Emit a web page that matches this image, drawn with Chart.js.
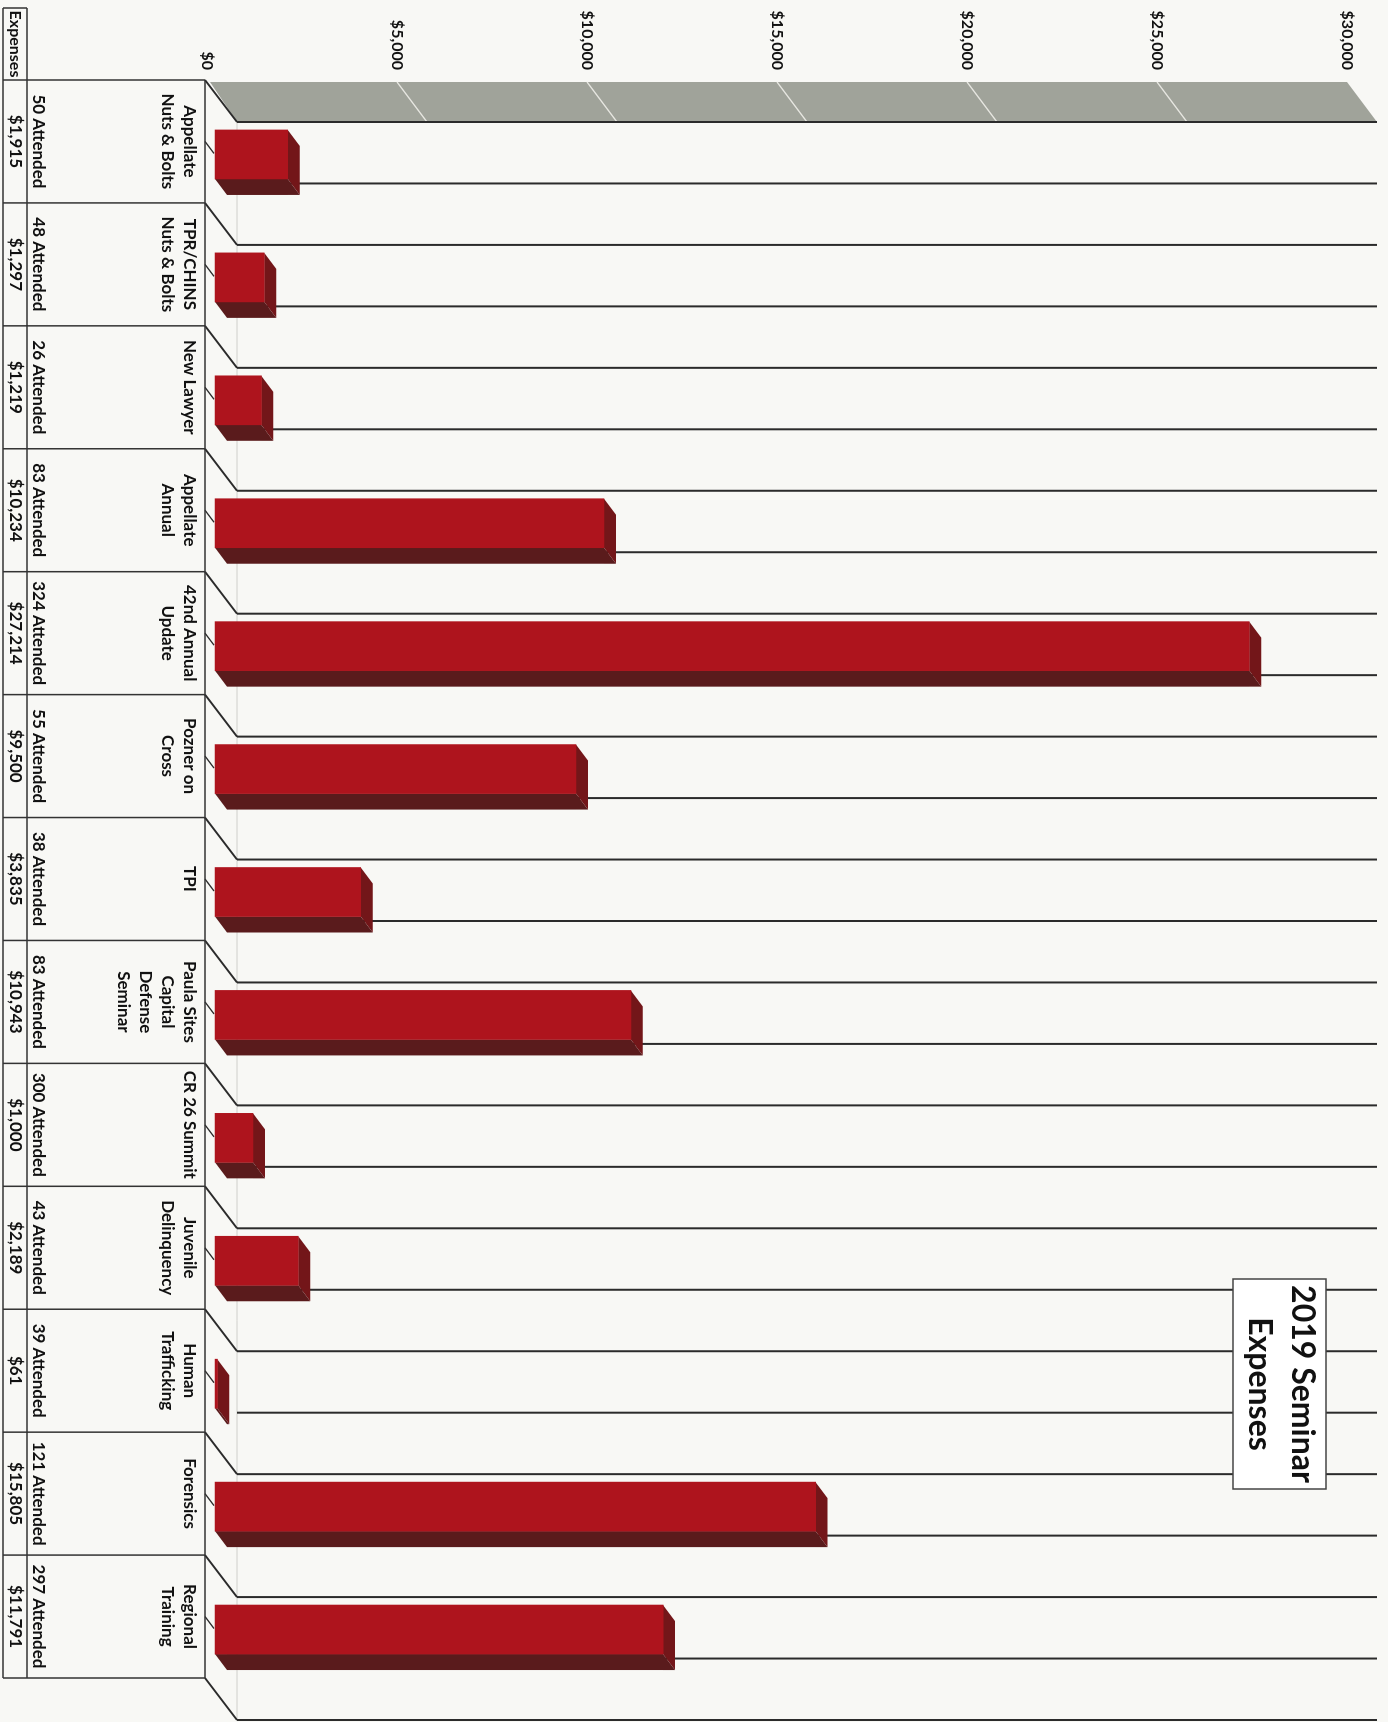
<!DOCTYPE html>
<html>
<head>
<meta charset="utf-8">
<script src="https://cdn.jsdelivr.net/npm/chart.js@4.4.1/dist/chart.umd.min.js"></script>
<style>
  html, body { margin: 0; padding: 0; background: #f8f8f5; overflow: hidden; }
  /* the chart is drawn landscape and turned a quarter clockwise, like the scanned page */
  #wrap { position: absolute; left: 0; top: 0; width: 1722px; height: 1388px;
          transform-origin: 0 0; transform: translate(1388px, 0) rotate(90deg); }
</style>
</head>
<body>
<div id="wrap"><canvas id="chart" width="1722" height="1388"></canvas></div>
<script>
const seminars = [
  ['Appellate', 'Nuts & Bolts'],
  ['TPR/CHINS', 'Nuts & Bolts'],
  'New Lawyer',
  ['Appellate', 'Annual'],
  ['42nd Annual', 'Update'],
  ['Pozner on', 'Cross'],
  'TPI',
  ['Paula Sites', 'Capital', 'Defense', 'Seminar'],
  'CR 26 Summit',
  ['Juvenile', 'Delinquency'],
  ['Human', 'Trafficking'],
  'Forensics',
  ['Regional', 'Training']
];
const attended = [50, 48, 26, 83, 324, 55, 38, 83, 300, 43, 39, 121, 297];
const expenses = [1915, 1297, 1219, 10234, 27214, 9500, 3835, 10943, 1000, 2189, 61, 15805, 11791];
const tickMin = 0;
const tickMax = 30000;
const tickStep = 5000;

const FONT = 'Lato, "Open Sans", sans-serif';
const money = v => '$' + v.toLocaleString('en-US');

// 3D look: offsets in canvas px
const floorDepth = { x: 42, y: -30 };
const barShift = 13;
const barDepth = { x: 16, y: -12 };

const sheet = {
  id: 'sheet',
  beforeDatasetsDraw(chart) {
    const { ctx, chartArea: a, scales: { x, y } } = chart;
    const n = seminars.length;
    const step = x.getPixelForValue(1) - x.getPixelForValue(0);
    const y0 = y.getPixelForValue(tickMin);
    const yTop = y.getPixelForValue(tickMax);
    const tableTop = y0 + 10;
    ctx.save();

    // grey side wall
    const fx = a.left + 2, bx = a.left + floorDepth.x;
    ctx.fillStyle = '#a0a39a';
    ctx.beginPath();
    ctx.moveTo(fx, y0 + 5);
    ctx.lineTo(fx, yTop + 8);
    ctx.lineTo(bx, yTop + 8 + floorDepth.y);
    ctx.lineTo(bx, y0 + 8 + floorDepth.y);
    ctx.closePath();
    ctx.fill();
    ctx.strokeStyle = '#e8e8e2';
    ctx.lineWidth = 1.5;
    for (let v = tickMin + tickStep; v < tickMax; v += tickStep) {
      const py = y.getPixelForValue(v) + 8;
      ctx.beginPath();
      ctx.moveTo(fx, py);
      ctx.lineTo(bx, py + floorDepth.y);
      ctx.stroke();
    }

    // faint back edge
    ctx.strokeStyle = '#cfcfcb';
    ctx.lineWidth = 1;
    ctx.beginPath();
    ctx.moveTo(bx, y0 + 8 + floorDepth.y);
    ctx.lineTo(a.right + floorDepth.x, y0 + 8 + floorDepth.y);
    ctx.stroke();

    // grid lines at every half category, pushed back by the depth
    ctx.strokeStyle = '#2b2b2b';
    ctx.lineWidth = 2;
    for (let k = 0; k <= 2 * n; k++) {
      const gx = a.left + k * step / 2 + floorDepth.x;
      ctx.beginPath();
      ctx.moveTo(gx, y0 + 8 + floorDepth.y);
      ctx.lineTo(gx, yTop + 8 + floorDepth.y);
      ctx.stroke();
    }
    // connectors from the table to the floor
    for (let i = 0; i <= n; i++) {
      const bxi = a.left + i * step;
      ctx.beginPath();
      ctx.moveTo(bxi, tableTop);
      ctx.lineTo(bxi + floorDepth.x, y0 + 8 + floorDepth.y);
      ctx.stroke();
    }
    ctx.lineWidth = 1.5;
    for (let i = 0; i < n; i++) {
      const c = x.getPixelForValue(i);
      ctx.beginPath();
      ctx.moveTo(c, tableTop);
      ctx.lineTo(c + 12, tableTop - 9);
      ctx.stroke();
    }

    // data table
    const rowLine = 1361, outer = 1385;
    ctx.strokeStyle = '#333';
    ctx.lineWidth = 1.5;
    ctx.beginPath();
    ctx.moveTo(a.left, tableTop); ctx.lineTo(a.right, tableTop);
    ctx.moveTo(8, rowLine); ctx.lineTo(a.right, rowLine);
    ctx.moveTo(8, outer); ctx.lineTo(a.right, outer);
    ctx.moveTo(8, rowLine); ctx.lineTo(8, outer);
    for (let i = 0; i <= n; i++) {
      const bxi = a.left + i * step;
      ctx.moveTo(bxi, tableTop); ctx.lineTo(bxi, outer);
    }
    ctx.stroke();

    ctx.fillStyle = '#111';
    ctx.font = 'bold 16px ' + FONT;
    ctx.textAlign = 'center';
    ctx.textBaseline = 'middle';
    ctx.fillText('Expenses', (8 + a.left) / 2, 1373);
    ctx.font = 'bold 17px ' + FONT;
    for (let i = 0; i < n; i++) {
      const c = x.getPixelForValue(i);
      ctx.fillText(attended[i] + ' Attended', c, 1350);
      ctx.fillText(money(expenses[i]), c, 1373);
    }
    ctx.restore();
  },
  beforeDatasetDraw(chart, args) {
    const ctx = chart.ctx;
    ctx.save();
    ctx.translate(barShift, 0);
    for (const el of args.meta.data) {
      const { x, y, base, width } = el.getProps(['x', 'y', 'base', 'width'], true);
      const L = x - width / 2, R = x + width / 2;
      // top face
      ctx.fillStyle = '#731619';
      ctx.beginPath();
      ctx.moveTo(L, y); ctx.lineTo(R, y);
      ctx.lineTo(R + barDepth.x, y + barDepth.y);
      ctx.lineTo(L + barDepth.x, y + barDepth.y);
      ctx.closePath(); ctx.fill();
      // side face
      ctx.fillStyle = '#5a1b1c';
      ctx.beginPath();
      ctx.moveTo(R, y); ctx.lineTo(R + barDepth.x, y + barDepth.y);
      ctx.lineTo(R + barDepth.x, base + barDepth.y);
      ctx.lineTo(R, base);
      ctx.closePath(); ctx.fill();
    }
  },
  afterDatasetDraw(chart) {
    chart.ctx.restore();
  },
  afterDraw(chart) {
    const ctx = chart.ctx;
    ctx.save();
    ctx.fillStyle = '#ffffff';
    ctx.strokeStyle = '#444';
    ctx.lineWidth = 1.5;
    ctx.fillRect(1279, 62, 210, 93);
    ctx.strokeRect(1279, 62, 210, 93);
    ctx.fillStyle = '#111';
    ctx.font = 'bold 32px ' + FONT;
    ctx.textAlign = 'center';
    ctx.textBaseline = 'middle';
    ctx.fillText('2019 Seminar', 1384, 86);
    ctx.fillText('Expenses', 1384, 129);
    ctx.restore();
  }
};

new Chart(document.getElementById('chart'), {
  type: 'bar',
  data: {
    labels: seminars,
    datasets: [{
      label: 'Expenses',
      data: expenses,
      backgroundColor: '#ae141d',
      borderWidth: 0,
      barThickness: 49,
      clip: false
    }]
  },
  options: {
    responsive: false,
    animation: false,
    devicePixelRatio: 1,
    layout: { padding: { top: 33, right: 44, left: 0, bottom: 0 } },
    plugins: { legend: { display: false }, tooltip: { enabled: false }, title: { display: false } },
    scales: {
      x: {
        type: 'category',
        grid: { display: false },
        border: { display: false },
        afterFit: s => { s.height = 215; },
        ticks: {
          autoSkip: false, maxRotation: 0, minRotation: 0,
          padding: 6,
          color: '#111',
          font: { family: FONT, size: 17, weight: 'bold', lineHeight: 1.3 }
        }
      },
      y: {
        min: tickMin,
        max: tickMax,
        grid: { display: false, drawTicks: false },
        border: { display: false },
        afterFit: s => { s.width = 80; },
        ticks: {
          stepSize: tickStep,
          padding: 10,
          labelOffset: 8,
          color: '#111',
          font: { family: FONT, size: 16, weight: 'bold' },
          callback: v => money(v)
        }
      }
    }
  },
  plugins: [sheet]
});
</script>
</body>
</html>
